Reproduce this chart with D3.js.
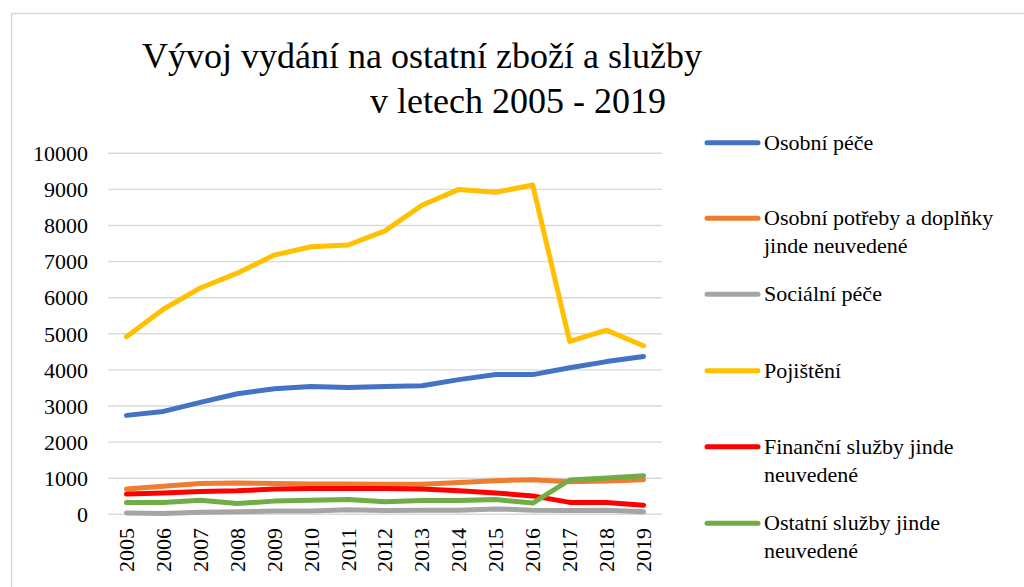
<!DOCTYPE html>
<html>
<head>
<meta charset="utf-8">
<script src="https://cdn.jsdelivr.net/npm/d3@7"></script>
<style>
body { margin: 0; background: #fff; }
svg text { font-family: "Liberation Serif", "Times New Roman", Tinos, "DejaVu Serif", serif; fill: #000; }
</style>
</head>
<body>
<div id="chart"></div>
<script>

var years = ["2005","2006","2007","2008","2009","2010","2011","2012","2013","2014","2015","2016","2017","2018","2019"];
var yTicks = [0,1000,2000,3000,4000,5000,6000,7000,8000,9000,10000];

var osobniPece = [2740,2850,3100,3340,3480,3540,3510,3540,3560,3730,3870,3870,4060,4230,4370];
var osobniPotreby = [700,780,850,870,850,840,840,830,830,880,930,960,900,920,960];
var socialniPece = [35,20,60,70,90,90,125,105,115,115,150,115,105,115,70];
var pojisteni = [4920,5680,6270,6680,7180,7410,7460,7850,8560,9000,8920,9120,4790,5100,4670];
var financniSluzby = [560,590,630,650,700,715,715,715,700,650,590,510,330,330,250];
var ostatniSluzby = [330,330,390,300,365,390,410,350,385,385,410,310,950,1005,1065];

var seriesNames = ["Osobní péče", "Osobní potřeby a doplňky|jinde neuvedené", "Sociální péče", "Pojištění", "Finanční služby jinde|neuvedené", "Ostatní služby jinde|neuvedené"];
var seriesColors = ["#4472c4", "#ed7d31", "#a5a5a5", "#ffc000", "#ff0000", "#70ad47"];
var seriesValues = [osobniPece, osobniPotreby, socialniPece, pojisteni, financniSluzby, ostatniSluzby];

var width = 1024, height = 587;
var serifFont = "'Liberation Serif', 'Times New Roman', Tinos, 'DejaVu Serif', serif";

var svg = d3.select("#chart").append("svg")
    .attr("width", width)
    .attr("height", height);

// frame of the chart (runs off the right and bottom edge)
svg.append("rect")
    .attr("x", 11.5)
    .attr("y", 13.5)
    .attr("width", 1030)
    .attr("height", 600)
    .attr("fill", "none")
    .attr("stroke", "#d9d9d9")
    .attr("stroke-width", 1.5);

// title
svg.append("text")
    .attr("x", 142)
    .attr("y", 68)
    .attr("font-family", serifFont)
    .style("font-size", "36px")
    .text("Vývoj vydání na ostatní zboží a služby");
svg.append("text")
    .attr("x", 370)
    .attr("y", 113)
    .attr("font-family", serifFont)
    .style("font-size", "36px")
    .text("v letech 2005 - 2019");

var x = d3.scaleBand()
    .domain(years)
    .range([108, 662]);

var y = d3.scaleLinear()
    .domain([0, 10000])
    .range([514.3, 153.3]);

// gridlines
svg.append("g")
    .selectAll("line")
    .data(yTicks)
    .enter().append("line")
    .attr("x1", 108)
    .attr("x2", 662)
    .attr("y1", function(d) { return y(d); })
    .attr("y2", function(d) { return y(d); })
    .attr("stroke", "#d9d9d9")
    .attr("stroke-width", 1.4);

// y axis labels
var yAxis = svg.append("g")
    .attr("transform", "translate(88,0)")
    .call(d3.axisLeft(y).tickValues(yTicks).tickSize(0).tickPadding(0).tickFormat(d3.format("d")));
yAxis.attr("font-family", serifFont).attr("font-size", 22);
yAxis.select(".domain").remove();
yAxis.selectAll("text")
    .attr("fill", "#000")
    .attr("dy", "0.33em");

// x axis labels (rotated)
var xAxis = svg.append("g")
    .attr("transform", "translate(0,528)")
    .call(d3.axisBottom(x).tickSize(0).tickPadding(0));
xAxis.attr("font-family", serifFont).attr("font-size", 22);
xAxis.select(".domain").remove();
xAxis.selectAll("text")
    .attr("fill", "#000")
    .attr("text-anchor", "end")
    .attr("transform", "rotate(-90)")
    .attr("x", 0)
    .attr("y", 0)
    .attr("dy", "0.34em");

// lines
var line = d3.line()
    .x(function(d, i) { return x(years[i]) + x.bandwidth() / 2; })
    .y(function(d) { return y(d); });

svg.append("g")
    .selectAll("path")
    .data(seriesValues)
    .enter().append("path")
    .attr("d", function(d) { return line(d); })
    .attr("fill", "none")
    .attr("stroke", function(d, i) { return seriesColors[i]; })
    .attr("stroke-width", 5)
    .attr("stroke-linecap", "round")
    .attr("stroke-linejoin", "round");

// legend
var legendY = [142.7, 218.3, 294.3, 370.7, 446.7, 523.3];
var legend = svg.append("g")
    .selectAll("g")
    .data(seriesNames)
    .enter().append("g")
    .attr("transform", function(d, i) { return "translate(0," + legendY[i] + ")"; });

legend.append("line")
    .attr("x1", 707)
    .attr("x2", 758)
    .attr("stroke", function(d, i) { return seriesColors[i]; })
    .attr("stroke-width", 5)
    .attr("stroke-linecap", "round");

legend.each(function(d) {
    var parts = d.split("|");
    var t = d3.select(this).append("text")
        .attr("x", 764)
        .attr("y", 7)
        .attr("font-family", serifFont)
        .style("font-size", "22px");
    parts.forEach(function(p, j) {
        t.append("tspan")
            .attr("x", 764)
            .attr("dy", j == 0 ? 0 : 28)
            .text(p);
    });
});

</script>
</body>
</html>
